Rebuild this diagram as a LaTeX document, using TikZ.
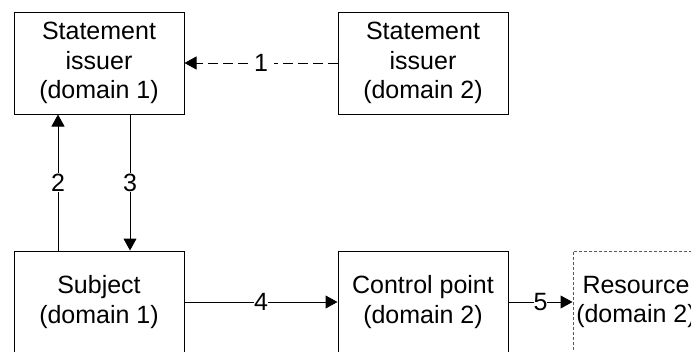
\documentclass[tikz,border=0pt]{standalone}
\usepackage{fontspec}
\setmainfont{Liberation Sans}
\usetikzlibrary{arrows.meta}
\begin{document}
\begin{tikzpicture}[x=1pt,y=-1pt,
  box/.style={draw=black, line width=1pt, rectangle, minimum width=170pt, minimum height=102pt, align=center, inner sep=0pt, font=\fontsize{25}{29.5}\selectfont},
  dbox/.style={box, draw=black!65, dash pattern=on 3pt off 2pt},
  conn/.style={line width=1pt, -{Triangle[length=12pt,width=13pt]}},
  lbl/.style={fill=white, inner sep=1pt, font=\fontsize{25}{29.5}\selectfont}]
\useasboundingbox (0,0) rectangle (691,351);
\clip (0,0) rectangle (691,351);
\node[box] (si1) at (99,63) {Statement\\issuer\\(domain 1)};
\node[box] (si2) at (423,63) {Statement\\issuer\\(domain 2)};
\node[box] (subj) at (99,302) {Subject\\(domain 1)};
\node[box] (cp) at (423,302) {Control point\\(domain 2)};
\node[dbox, minimum width=126pt] (res) at (636,302) {Resource\\(domain 2)};
\draw[conn, dash pattern=on 10pt off 5pt] (si2.west) -- node[lbl, inner xsep=6pt, inner ysep=0pt] {1} (si1.east);
\draw[conn] (subj.north -| 58,0) -- node[lbl, pos=0.5] {2} (si1.south -| 58,0);
\draw[conn] (si1.south -| 130,0) -- node[lbl, pos=0.5] {3} (subj.north -| 130,0);
\draw[conn] (subj.east) -- node[lbl, inner sep=0pt] {4} (cp.west);
\draw[conn] (cp.east) -- node[lbl, inner sep=0pt] {5} (res.west);
\end{tikzpicture}
\end{document}
